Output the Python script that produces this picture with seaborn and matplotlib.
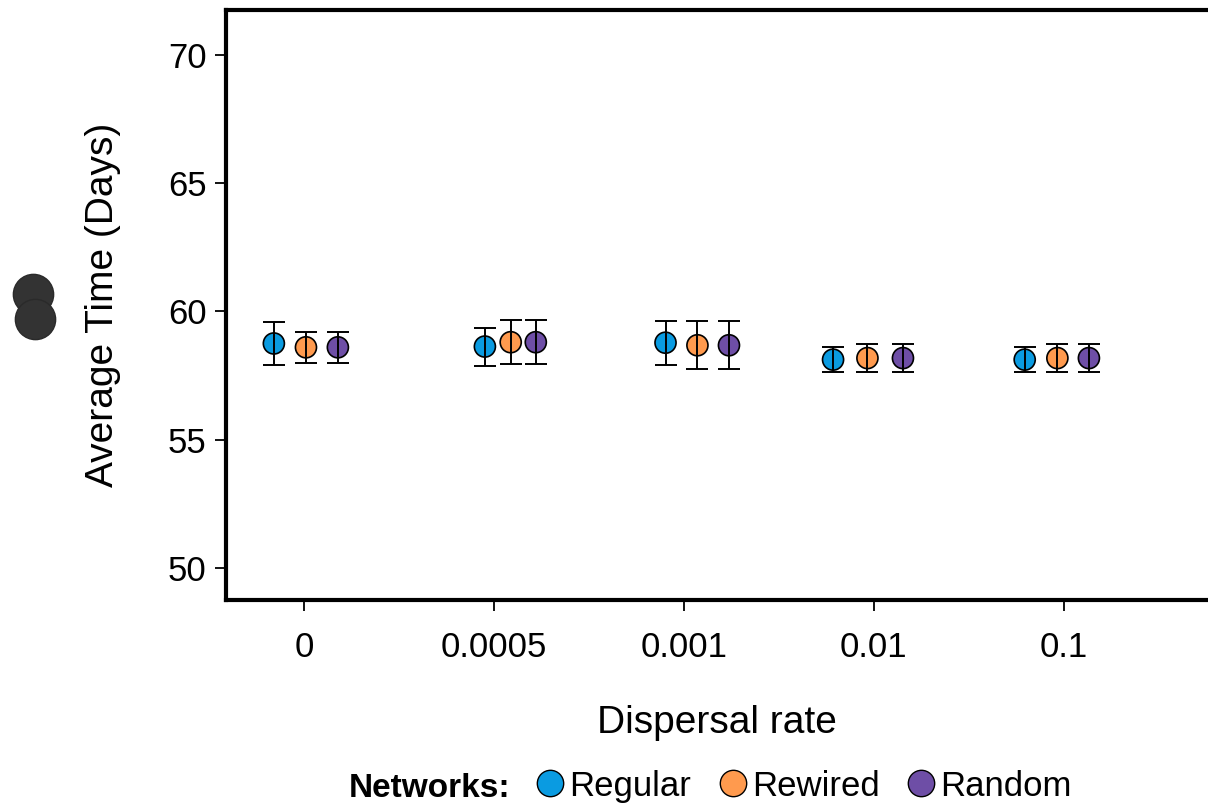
import numpy as np
import pandas as pd
import matplotlib
matplotlib.use("Agg")
import matplotlib.pyplot as plt
from matplotlib.lines import Line2D
import seaborn as sns

# data
rates = ['0', '0.0005', '0.001', '0.01', '0.1']
networks = ['Regular', 'Rewired', 'Random']
colors = ['#0A9BE1', '#FF9A4E', '#6E4EA6']

regular_mean = [58.75, 58.63, 58.78, 58.12, 58.12]
regular_err = [0.85, 0.74, 0.85, 0.49, 0.49]
rewired_mean = [58.60, 58.80, 58.68, 58.18, 58.18]
rewired_err = [0.60, 0.85, 0.93, 0.55, 0.55]
random_mean = [58.60, 58.80, 58.68, 58.18, 58.18]
random_err = [0.60, 0.85, 0.93, 0.55, 0.55]

# horizontal jitter of each point inside its group
regular_jit = [-0.158, -0.047, -0.096, -0.214, -0.205]
rewired_jit = [0.011, 0.089, 0.072, -0.033, -0.033]
random_jit = [0.179, 0.221, 0.238, 0.154, 0.133]

rows = []
for net, m, e, j in zip(networks,
                        [regular_mean, rewired_mean, random_mean],
                        [regular_err, rewired_err, random_err],
                        [regular_jit, rewired_jit, random_jit]):
    for i in range(len(rates)):
        rows.append({'network': net, 'x': i + j[i], 'mean': m[i], 'err': e[i]})
df = pd.DataFrame(rows)

sns.set_theme(style='white')
plt.rcParams['font.family'] = ['Liberation Sans', 'DejaVu Sans']
plt.rcParams['text.color'] = 'black'

fig = plt.figure(figsize=(12.08, 8.05), dpi=100)
ax = fig.add_axes([226 / 1208, 205 / 805, (1208 - 226) / 1208, 590 / 805])

palette = dict(zip(networks, colors))
sns.scatterplot(data=df, x='x', y='mean', hue='network', palette=palette,
                s=230, edgecolor='black', linewidth=1.2, legend=False,
                zorder=3, ax=ax)
ax.errorbar(df['x'], df['mean'], yerr=df['err'], fmt='none', ecolor='black',
            elinewidth=1.4, capsize=8, capthick=1.4, zorder=4)

ax.set_xlim(-0.41, 4.76)
ax.set_ylim(48.75, 71.75)
ax.set_xticks(range(len(rates)))
ax.set_xticklabels(rates)
ax.set_yticks([50, 55, 60, 65, 70])
ax.tick_params(axis='both', which='major', labelsize=25, length=8, width=1.3,
               direction='out', color='black', labelcolor='black', pad=6,
               left=True, bottom=True)
ax.tick_params(axis='x', pad=14)
for side in ['left', 'bottom', 'top']:
    ax.spines[side].set_linewidth(3)
    ax.spines[side].set_color('black')
ax.spines['right'].set_visible(False)

ax.set_xlabel('Dispersal rate', fontsize=28, labelpad=30, color='black')
ax.set_ylabel('Average Time (Days)', fontsize=28, labelpad=34, color='black')

# stray dark circles on the left of the reference
fig.add_artist(Line2D([33 / 1208], [1 - 294 / 805], marker='o', markersize=29,
                      color='#333333', markeredgecolor='#2a2a2a',
                      transform=fig.transFigure))
fig.add_artist(Line2D([35 / 1208], [1 - 319 / 805], marker='o', markersize=29,
                      color='#333333', markeredgecolor='#2a2a2a',
                      transform=fig.transFigure))

handles = [Line2D([], [], marker='o', linestyle='none', markersize=19,
                  markerfacecolor=c, markeredgecolor='black', markeredgewidth=1)
           for c in colors]
leg = fig.legend(handles, networks, loc='center left',
                 bbox_to_anchor=(538 / 1208, 1 - 786 / 805), ncol=3,
                 frameon=False, fontsize=25, handlelength=0.7,
                 handletextpad=0.2, columnspacing=0.85, borderpad=0,
                 borderaxespad=0, labelcolor='black')
fig.text(510 / 1208, 1 - 788 / 805, 'Networks:', ha='right', va='center',
         fontsize=24, fontweight='bold', color='black')

fig.savefig('out.png', dpi=100)
